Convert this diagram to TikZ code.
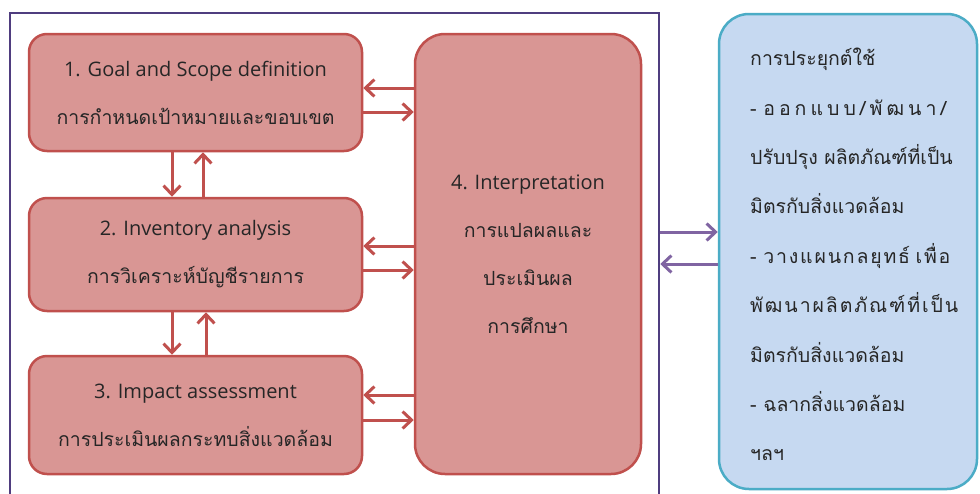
\documentclass[tikz,border=0pt]{standalone}
\usepackage{fontspec}
\setmainfont{Open Sans}
\newfontfamily\thai[Script=Thai]{Loma}
\newcommand\thl[1]{{\thai\fontsize{19.5}{48}\selectfont #1}}
\newcommand\gp{\hskip 0pt plus 1fil\relax}
\usetikzlibrary{arrows.meta}
\definecolor{pinkfill}{HTML}{D99694}
\definecolor{pinkline}{HTML}{C0504D}
\definecolor{bluefill}{HTML}{C6D9F1}
\definecolor{blueline}{HTML}{4BACC6}
\definecolor{framec}{HTML}{4F3D7F}
\definecolor{purp}{HTML}{8064A2}
\definecolor{txt}{HTML}{262626}
\tikzset{
  stagebox/.style={draw=pinkline, fill=pinkfill, line width=2.5pt, rounded corners=18pt,
    inner sep=0pt, align=center, text=txt, font=\fontsize{20}{48}\selectfont},
  arr/.style={draw=pinkline, line width=3pt, -{Straight Barb[length=9pt,width=17pt]}},
  parr/.style={draw=purp, line width=3pt, -{Straight Barb[length=9pt,width=17pt]}},
}
\begin{document}
\begin{tikzpicture}[x=1pt,y=-1pt]
\clip (0,0) rectangle (980,493);
\fill[white] (0,0) rectangle (980,493);
\node[draw=framec, line width=2.5pt, minimum width=649pt, minimum height=500pt, inner sep=0pt] (outer) at (334.5,263) {};
\node[stagebox, minimum width=333pt, minimum height=117pt] (b1) at (195.5,92.5)
  {1. Goal and Scope definition\\\thl{การกำหนดเป้าหมายและขอบเขต}};
\node[stagebox, minimum width=333pt, minimum height=113pt] (b2) at (195.5,254.5)
  {2. Inventory analysis\\\thl{การวิเคราะห์บัญชีรายการ}};
\node[stagebox, minimum width=333pt, minimum height=118pt] (b3) at (195.5,415)
  {3. Impact assessment\\\thl{การประเมินผลกระทบสิ่งแวดล้อม}};
\node[stagebox, rounded corners=30pt, minimum width=226pt, minimum height=440pt] (b4) at (528,254)
  {4. Interpretation\\\thl{การแปลผลและ}\\\thl{ประเมินผล}\\\thl{การศึกษา}};
\node[draw=blueline, fill=bluefill, line width=2.5pt, rounded corners=30pt, minimum width=258pt, minimum height=475pt, inner sep=0pt] (app) at (848,251.5) {};
\node[anchor=west, align=left, inner sep=0pt, text=txt, font=\thai\fontsize{19.5}{49.4}\selectfont] (apptext) at (750,254.5)
  {การประยุกต์ใช้\\
   \makebox[200pt][l]{- อ\gp อ\gp ก\gp แ\gp บ\gp บ\gp /\gp พั\gp ฒ\gp น\gp า\gp /}\\
   ปรับปรุง ผลิตภัณฑ์ที่เป็น\\
   มิตรกับสิ่งแวดล้อม\\
   \makebox[202pt][l]{- ว\gp า\gp ง\gp แ\gp ผ\gp น\gp ก\gp ล\gp ยุ\gp ท\gp ธ์\gp\gp\gp เ\gp พื่\gp อ}\\
   \makebox[210pt][l]{พั\gp ฒ\gp น\gp า\gp ผ\gp ลิ\gp ต\gp ภั\gp ณ\gp ฑ์\gp ที่\gp เ\gp ป็\gp น}\\
   มิตรกับสิ่งแวดล้อม\\
   - ฉลากสิ่งแวดล้อม\\
   ฯลฯ};
% arrows between stages and interpretation
\draw[arr] (b4.west |- 0,88) -- (b1.east |- 0,88);
\draw[arr] (b1.east |- 0,112) -- (b4.west |- 0,112);
\draw[arr] (b4.west |- 0,246) -- (b2.east |- 0,246);
\draw[arr] (b2.east |- 0,270) -- (b4.west |- 0,270);
\draw[arr] (b4.west |- 0,395) -- (b3.east |- 0,395);
\draw[arr] (b3.east |- 0,420) -- (b4.west |- 0,420);
% vertical arrows
\draw[arr] (b1.south -| 172,0) -- (b2.north -| 172,0);
\draw[arr] (b2.north -| 203,0) -- (b1.south -| 203,0);
\draw[arr] (b2.south -| 172,0) -- (b3.north -| 172,0);
\draw[arr] (b3.north -| 206,0) -- (b2.south -| 206,0);
% purple arrows
\draw[parr] (outer.east |- 0,232) -- (app.west |- 0,232);
\draw[parr] (app.west |- 0,264) -- (outer.east |- 0,264);
\end{tikzpicture}
\end{document}
